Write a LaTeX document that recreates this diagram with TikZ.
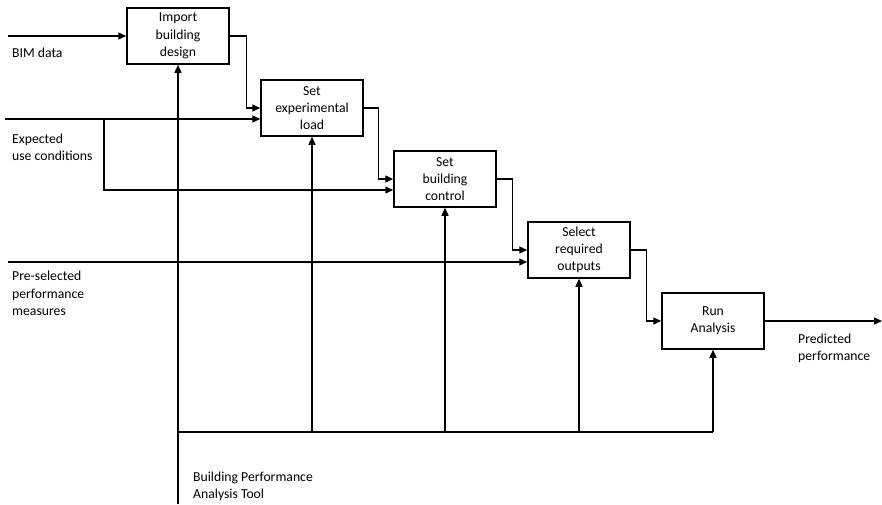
\documentclass[tikz,border=0pt]{standalone}
\usepackage{fontspec}
\setmainfont{Carlito}
\usetikzlibrary{arrows.meta}
\begin{document}
\begin{tikzpicture}[x=1pt,y=-1pt,
  every node/.style={font=\fontsize{13.7}{17.3}\selectfont},
  proc/.style={draw,line width=1.5pt,minimum width=102pt,minimum height=56pt,align=center,inner sep=0pt},
  lbl/.style={anchor=west,align=left,inner sep=0pt},
  conn/.style={line width=1.4pt},
  arr/.style={conn,-{Triangle[length=8pt,width=7pt]}}]
\useasboundingbox (0,0) rectangle (882,504);
% boxes
\node[proc] (b1) at (178,36) {Import\\building\\design};
\node[proc] (b2) at (312,108) {Set\\experimental\\load};
\node[proc] (b3) at (445,179) {Set\\building\\control};
\node[proc] (b4) at (579,250) {Select\\required\\outputs};
\node[proc] (b5) at (713,321) {Run\\Analysis};
% free ends
\coordinate (bim) at (8,36);
\coordinate (eu) at (5,119);
\coordinate (eb) at (104,119);
\coordinate (ps) at (8,262);
\coordinate (out) at (882,321);
\coordinate (mech) at (178,504);
\coordinate (mj) at (178,432);
% labels
\node[lbl] (lbim) at (12,53) {BIM data};
\node[lbl] (leu) at (12,147) {Expected\\use conditions};
\node[lbl] (lps) at (12,293.5) {Pre-selected\\performance\\measures};
\node[lbl] (lout) at (798,348) {Predicted\\performance};
\node[lbl] (lmech) at (193,486.5) {Building Performance\\Analysis Tool};
% inputs
\draw[arr] (bim) -- (b1.west);
\draw[arr] (eu) -- (b2.west |- eu);
\draw[arr] (eb) |- ([yshift=-11pt]b3.west);
\draw[arr] (ps) -- (b4.west |- ps);
% flow
\draw[arr] (b1.east) -- ++(17,0) |- (b2.west);
\draw[arr] (b2.east) -- ++(15,0) |- (b3.west);
\draw[arr] (b3.east) -- ++(16,0) |- (b4.west);
\draw[arr] (b4.east) -- ++(16,0) |- (b5.west);
\draw[arr] (b5.east) -- (out);
% mechanism
\draw[arr] (mech) -- (b1.south);
\draw[conn] (mj) -- (mj -| b5.south);
\draw[arr] (mj -| b2.south) -- (b2.south);
\draw[arr] (mj -| b3.south) -- (b3.south);
\draw[arr] (mj -| b4.south) -- (b4.south);
\draw[arr] (mj -| b5.south) -- (b5.south);
\end{tikzpicture}
\end{document}
